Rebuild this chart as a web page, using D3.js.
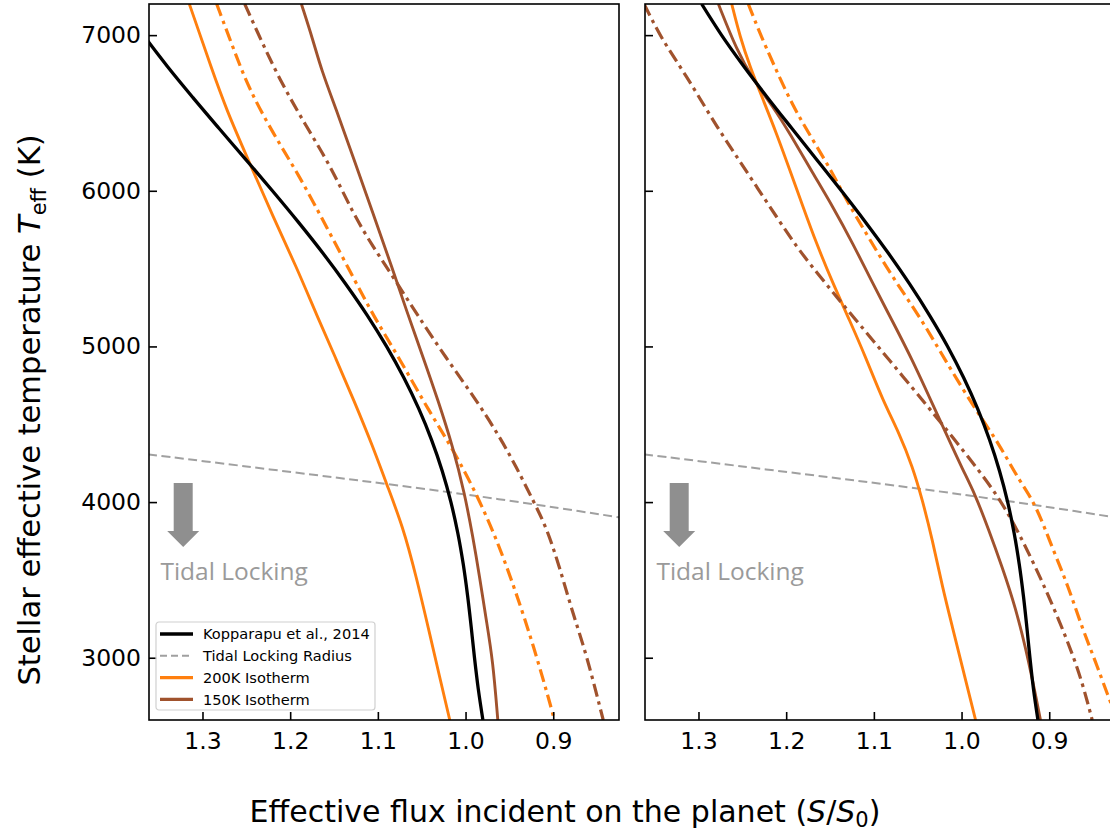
<!DOCTYPE html>
<html>
<head>
<meta charset="utf-8">
<script src="https://cdn.jsdelivr.net/npm/d3@7"></script>
<style>
  body { margin: 0; background: #fff; }
  svg { display: block; }
</style>
</head>
<body>
<svg id="chart" width="1110" height="834"></svg>
<script>
// ---- data ---------------------------------------------------------------
// Effective temperature grid (K) for the Kopparapu et al. (2014) runaway-greenhouse limits
const tempGrid = [2600, 2800, 3000, 3200, 3400, 3600, 3800, 4000, 4200, 4400, 4600, 4800,
                  5000, 5200, 5400, 5600, 5800, 6000, 6200, 6400, 6600, 6800, 7000, 7200];
// S/S0 of the limit, left panel
const kopparapuLeft = [0.9802, 0.9855, 0.9898, 0.9936, 0.9977, 1.0026, 1.0088, 1.0167, 1.0266, 1.0388, 1.0534, 1.0705,
                       1.0901, 1.1121, 1.1365, 1.1628, 1.1909, 1.2203, 1.2505, 1.2810, 1.3111, 1.3402, 1.3673, 1.3918];
// S/S0 of the limit, right panel
const kopparapuRight = [0.9129, 0.9180, 0.9220, 0.9256, 0.9295, 0.9342, 0.9400, 0.9474, 0.9567, 0.9681, 0.9817, 0.9977,
                        1.0159, 1.0365, 1.0591, 1.0836, 1.1097, 1.1370, 1.1651, 1.1934, 1.2214, 1.2484, 1.2737, 1.2964];

// Isotherms as [S/S0, Teff] pairs
const iso200Left = [[1.315,7200],[1.3034,7012],[1.2917,6819],[1.2727,6519],[1.2461,6177],[1.2196,5833],[1.1929,5512],
  [1.169,5191],[1.148,4924],[1.1275,4656],[1.1056,4356],[1.0904,4121],[1.0714,3842],[1.0562,3521],[1.041,3157],
  [1.0296,2878],[1.018,2600]];
const iso200AltLeft = [[1.2838,7200],[1.2613,6861],[1.2461,6647],[1.2196,6369],[1.1889,6090],[1.1587,5769],[1.1284,5448],
  [1.1046,5191],[1.075,4919],[1.0425,4592],[1.0138,4335],[0.984,4013],[0.9612,3713],[0.9422,3414],[0.9233,3093],
  [0.9005,2645],[0.899,2600]];
const iso150Left = [[1.1872,7200],[1.174,6969],[1.1644,6776],[1.1473,6519],[1.1284,6219],[1.1056,5855],[1.0828,5491],
  [1.0676,5234],[1.048,4924],[1.0315,4656],[1.0145,4356],[1.0011,4056],[0.9917,3778],[0.984,3521],[0.9764,3242],
  [0.9689,2985],[0.9632,2600]];
const iso150AltLeft = [[1.2518,7200],[1.2385,7033],[1.212,6712],[1.1815,6412],[1.1535,6155],[1.1284,5855],[1.1056,5641],
  [1.0828,5448],[1.0562,5213],[1.022,4924],[0.9878,4656],[0.9612,4420],[0.9422,4227],[0.9233,4013],[0.908,3842],
  [0.8929,3585],[0.8777,3285],[0.8624,3028],[0.843,2600]];

const iso200Right = [[1.2621,7200],[1.2527,6990],[1.2413,6797],[1.2262,6583],[1.211,6369],[1.1959,6134],[1.1808,5898],
  [1.1656,5663],[1.1468,5406],[1.1278,5170],[1.1088,4924],[1.09,4656],[1.071,4442],[1.0559,4227],[1.0446,4013],
  [1.0332,3756],[1.0219,3456],[1.0105,3199],[0.9992,2942],[0.984,2600]];
const iso200AltRight = [[1.2432,7200],[1.23,7012],[1.2149,6819],[1.1922,6540],[1.1695,6326],[1.1468,6112],[1.1315,5941],
  [1.1088,5727],[1.0861,5512],[1.0634,5320],[1.0407,5127],[1.02,4924],[0.984,4592],[0.9575,4378],[0.9348,4142],
  [0.9159,3992],[0.897,3713],[0.8781,3456],[0.863,3199],[0.8478,2985],[0.8327,2750],[0.822,2600]];
const iso150Right = [[1.2773,7200],[1.2564,6904],[1.2376,6712],[1.2149,6540],[1.1959,6369],[1.1695,6112],[1.1468,5898],
  [1.1241,5663],[1.1014,5406],[1.0795,5170],[1.057,4924],[1.0335,4635],[1.016,4420],[0.9985,4206],[0.985,4056],
  [0.9689,3821],[0.9538,3585],[0.9386,3328],[0.9235,2985],[0.910,2600]];
const iso150AltRight = [[1.362,7200],[1.3435,6990],[1.3208,6797],[1.3018,6626],[1.2791,6412],[1.2564,6219],[1.2337,6026],
  [1.211,5833],[1.1883,5641],[1.1644,5470],[1.1427,5320],[1.1205,5170],[1.0983,5020],[1.0841,4924],[1.0541,4720],
  [1.0354,4592],[1.0106,4420],[0.9806,4206],[0.9555,4013],[0.9345,3799],[0.9159,3585],[0.897,3350],[0.8781,3093],
  [0.863,2857],[0.851,2600]];

// Tidal locking radius
const tidalS = [1.362, 1.25, 1.15, 1.0965, 1.0, 0.9, 0.825];
const tidalT = [4307, 4229, 4159, 4121, 4049, 3967, 3902];

// Axis ticks and legend labels
const xTicks = [1.3, 1.2, 1.1, 1.0, 0.9];
const yTicks = [3000, 4000, 5000, 6000, 7000];
const legendLabels = ["Kopparapu et al., 2014", "Tidal Locking Radius", "200K Isotherm", "150K Isotherm"];

// ---- layout ---------------------------------------------------------------
const ORANGE = "#ff7f0e", BROWN = "#a0522d", GREY = "#a0a0a0";
const FONT = "DejaVu Sans, Verdana, sans-serif";
const plotTop = 4, plotH = 716, plotW = 470;

const svg = d3.select("#chart");

const x = d3.scaleLinear().domain([1.361, 0.825]).range([0, plotW]);
const y = d3.scaleLinear().domain([2600, 7200]).range([plotH, 0]);

// smooth interpolation for the exact limit, B-spline smoothing for the isotherm traces
const lineExact = d3.line().x(d => x(d[0])).y(d => y(d[1])).curve(d3.curveCatmullRom.alpha(0.5));
const lineSmooth = d3.line().x(d => x(d[0])).y(d => y(d[1])).curve(d3.curveBasis);

const DASHDOT = "13,5,3.5,5";
const styles = {
  kop:   {color: "#000", width: 3.3, dash: null},
  tidal: {color: GREY, width: 2, dash: "9,4.5"},
  iso200: {color: ORANGE, width: 2.9, dash: null},
  iso200alt: {color: ORANGE, width: 3.2, dash: DASHDOT},
  iso150: {color: BROWN, width: 2.9, dash: null},
  iso150alt: {color: BROWN, width: 3.2, dash: DASHDOT}
};

const tidalPts = tidalS.map((s, i) => [s, tidalT[i]]);

const panels = [
  {x0: 149, labels: true, kop: kopparapuLeft,
   curves: [["iso200", iso200Left], ["iso200alt", iso200AltLeft], ["iso150", iso150Left], ["iso150alt", iso150AltLeft]]},
  {x0: 645, labels: false, kop: kopparapuRight,
   curves: [["iso200", iso200Right], ["iso200alt", iso200AltRight], ["iso150", iso150Right], ["iso150alt", iso150AltRight]]}
];

panels.forEach((p, pi) => {
  const g = svg.append("g").attr("transform", `translate(${p.x0},${plotTop})`);

  g.append("clipPath").attr("id", "clip" + pi)
    .append("rect").attr("width", plotW).attr("height", plotH);

  const plot = g.append("g").attr("clip-path", `url(#clip${pi})`);

  const draw = (pts, st, gen) => {
    plot.append("path").datum(pts)
      .attr("d", gen)
      .attr("fill", "none")
      .attr("stroke", st.color)
      .attr("stroke-width", st.width)
      .attr("stroke-dasharray", st.dash)
      .attr("stroke-linejoin", "round");
  };

  draw(tidalPts, styles.tidal, lineExact);
  p.curves.forEach(([k, pts]) => draw(pts, styles[k], lineSmooth));
  draw(tempGrid.map((t, i) => [p.kop[i], t]), styles.kop, lineExact);

  // Tidal-locking annotation: arrow and caption
  const ax = x(1.322), ay0 = y(4123), ay1 = y(3711), headLen = 16, shaftHalf = 9.5, headHalf = 16;
  g.append("path")
    .attr("d", `M${ax - shaftHalf},${ay0} H${ax + shaftHalf} V${ay1 - headLen} H${ax + headHalf} L${ax},${ay1} L${ax - headHalf},${ay1 - headLen} H${ax - shaftHalf} Z`)
    .attr("fill", "#8f8f8f");
  g.append("text")
    .attr("x", x(1.348)).attr("y", y(3500))
    .attr("font-family", "Open Sans, Lato, sans-serif")
    .attr("font-size", 24.5)
    .attr("fill", "#9a9a9a")
    .text("Tidal Locking");

  // Axes with inward ticks
  const xAxis = d3.axisBottom(x).tickValues(xTicks).tickFormat(d3.format(".1f"))
    .tickSizeInner(-8).tickSizeOuter(0).tickPadding(12);
  const gx = g.append("g").attr("transform", `translate(0,${plotH})`).call(xAxis);

  const yAxis = d3.axisLeft(y).tickValues(yTicks)
    .tickFormat(p.labels ? d3.format("d") : () => "")
    .tickSizeInner(-8).tickSizeOuter(0).tickPadding(8);
  const gy = g.append("g").call(yAxis);

  [gx, gy].forEach(a => {
    a.select(".domain").remove();
    a.selectAll(".tick line").attr("stroke", "#000").attr("stroke-width", 1.6);
    a.selectAll(".tick text").attr("font-family", FONT).attr("font-size", 23.5).attr("fill", "#000");
  });

  // Frame
  g.append("rect").attr("width", plotW).attr("height", plotH)
    .attr("fill", "none").attr("stroke", "#000").attr("stroke-width", 1.6);

  // Legend (left panel only)
  if (pi === 0) {
    const lg = g.append("g").attr("transform", `translate(${156 - p.x0},${622 - plotTop})`);
    lg.append("rect").attr("width", 219).attr("height", 88).attr("rx", 3)
      .attr("fill", "#fff").attr("fill-opacity", 0.8)
      .attr("stroke", "#d0d0d0").attr("stroke-width", 1.2);
    const keys = ["kop", "tidal", "iso200", "iso150"];
    keys.forEach((k, i) => {
      const cy = 12 + i * 21.8;
      const st = styles[k];
      lg.append("line").attr("x1", 4).attr("x2", 37).attr("y1", cy).attr("y2", cy)
        .attr("stroke", st.color).attr("stroke-width", k === "kop" ? 3.3 : (k === "tidal" ? 2 : 3.2))
        .attr("stroke-dasharray", k === "tidal" ? "7,4" : null);
      lg.append("text").attr("x", 47).attr("y", cy).attr("dy", "0.35em")
        .attr("font-family", FONT).attr("font-size", 14.6).attr("fill", "#000")
        .text(legendLabels[i]);
    });
  }
});

// Axis titles
const yl = svg.append("text")
  .attr("transform", "translate(40,410) rotate(-90)")
  .attr("text-anchor", "middle")
  .attr("font-family", FONT).attr("font-size", 30.5).attr("fill", "#000");
yl.append("tspan").text("Stellar effective temperature ");
yl.append("tspan").attr("font-style", "italic").text("T");
yl.append("tspan").attr("font-size", 21).attr("dy", 6).text("eff");
yl.append("tspan").attr("dy", -6).text(" (K)");

const xl = svg.append("text")
  .attr("x", 565).attr("y", 822)
  .attr("text-anchor", "middle")
  .attr("font-family", FONT).attr("font-size", 30).attr("fill", "#000");
xl.append("tspan").text("Effective flux incident on the planet (");
xl.append("tspan").attr("font-style", "italic").text("S");
xl.append("tspan").text("/");
xl.append("tspan").attr("font-style", "italic").text("S");
xl.append("tspan").attr("font-size", 21).attr("dy", 5).text("0");
xl.append("tspan").attr("dy", -5).text(")");
</script>
</body>
</html>
